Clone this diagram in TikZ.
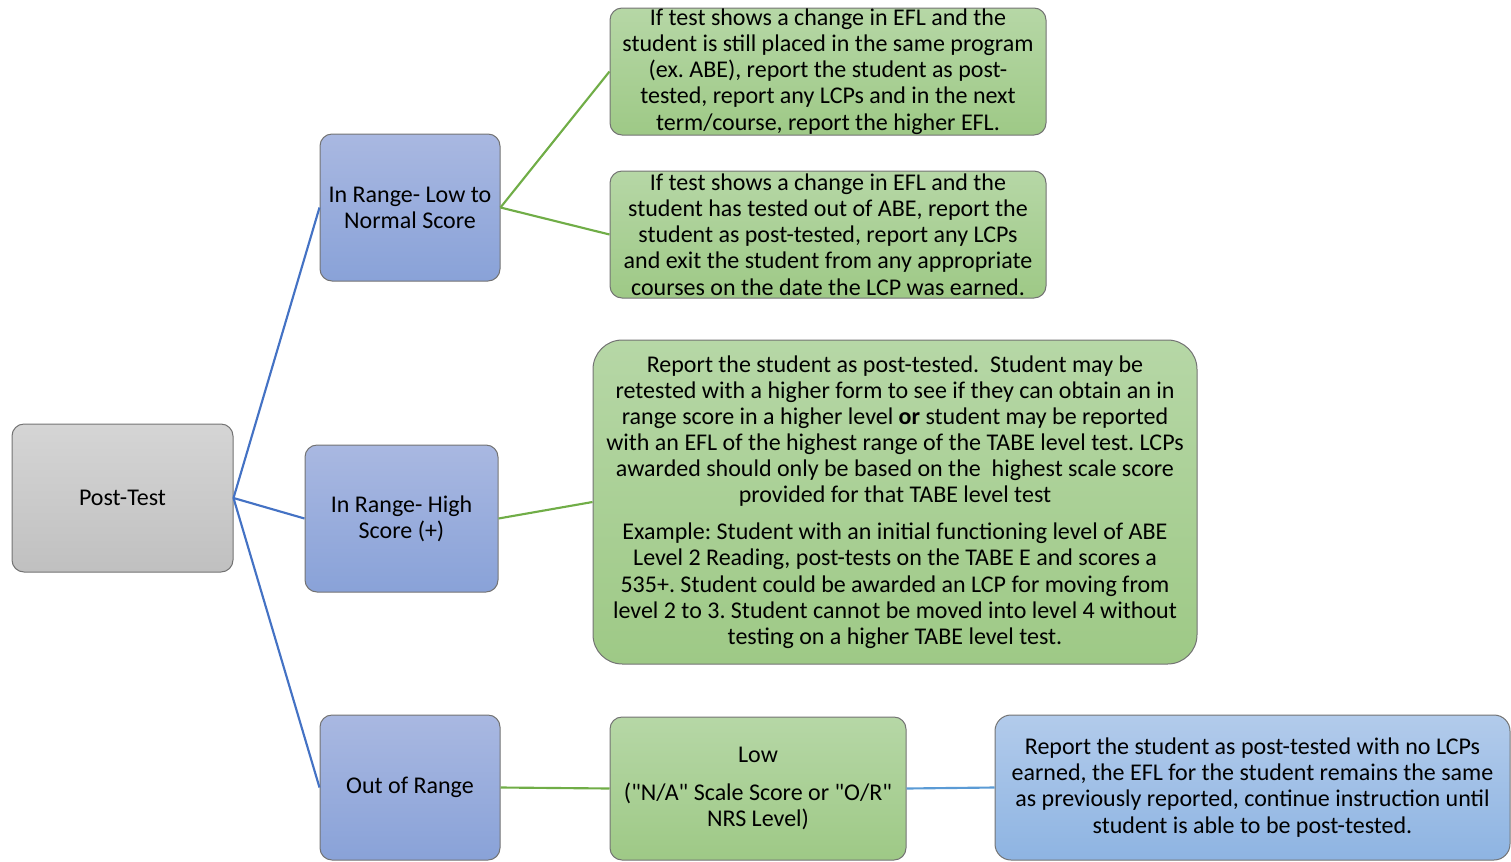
\documentclass[tikz,border=0pt]{standalone}
\usepackage{fontspec}
\setmainfont{Carlito}
\frenchspacing
\definecolor{grayTop}{RGB}{213,213,213}
\definecolor{grayBot}{RGB}{192,192,192}
\definecolor{blueTop}{RGB}{169,184,225}
\definecolor{blueBot}{RGB}{137,162,216}
\definecolor{greenTop}{RGB}{182,215,166}
\definecolor{greenBot}{RGB}{158,201,134}
\definecolor{skyTop}{RGB}{178,203,235}
\definecolor{skyBot}{RGB}{142,180,226}
\definecolor{lineBlue}{RGB}{68,114,196}
\definecolor{lineGreen}{RGB}{112,173,71}
\definecolor{lineSky}{RGB}{91,155,213}
\tikzset{
  box/.style={rectangle, rounded corners=9pt, draw=black!55, line width=0.75pt,
    align=center, inner xsep=2pt, inner ysep=0pt,
    font=\fontsize{18}{19.6}\selectfont},
  graybox/.style={box, top color=grayTop, bottom color=grayBot},
  bluebox/.style={box, top color=blueTop, bottom color=blueBot},
  greenbox/.style={box, top color=greenTop, bottom color=greenBot},
  skybox/.style={box, top color=skyTop, bottom color=skyBot},
  link/.style={line width=1.6pt}
}
\begin{document}
\begin{tikzpicture}[x=0.75pt, y=-0.75pt]
  \useasboundingbox (0,0) rectangle (1511,861);
  % Nodes
  \node (post) [graybox, minimum width=221*0.75pt, minimum height=148*0.75pt] at (122.5, 498) {Post-Test};
  \node (lownorm) [bluebox, minimum width=180*0.75pt, minimum height=147*0.75pt] at (410, 207.5) {In Range- Low to\\Normal Score};
  \node (high) [bluebox, minimum width=193*0.75pt, minimum height=147*0.75pt] at (401.5, 518.5) {In Range- High\\Score (+)};
  \node (outr) [bluebox, minimum width=180*0.75pt, minimum height=145*0.75pt] at (410, 787.5) {Out of Range};
  \node (change) [greenbox, minimum width=436*0.75pt, minimum height=127*0.75pt] at (828, 71.5)
    {If test shows a change in EFL and the\\student is still placed in the same program\\(ex. ABE), report the student as post-\\tested, report any LCPs and in the next\\term/course, report the higher EFL.};
  \node (exit) [greenbox, minimum width=436*0.75pt, minimum height=127*0.75pt] at (828, 234.5)
    {If test shows a change in EFL and the\\student has tested out of ABE, report the\\student as post-tested, report any LCPs\\and exit the student from any appropriate\\courses on the date the LCP was earned.};
  \node (report) [greenbox, rounded corners=22pt, minimum width=604*0.75pt, minimum height=324*0.75pt] at (895, 502)
    {Report the student as post-tested.\ \ Student may be\\retested with a higher form to see if they can obtain an in\\range score in a higher level \textbf{or} student may be reported\\with an EFL of the highest range of the TABE level test. LCPs\\awarded should only be based on the\ \ highest scale score\\provided for that TABE level test\\[8pt]Example: Student with an initial functioning level of ABE\\Level 2 Reading, post-tests on the TABE E and scores a\\535+. Student could be awarded an LCP for moving from\\level 2 to 3. Student cannot be moved into level 4 without\\testing on a higher TABE level test.};
  \node (low) [greenbox, minimum width=296*0.75pt, minimum height=143*0.75pt] at (758, 788.5)
    {Low\\[9pt](\textquotedbl N/A\textquotedbl{} Scale Score or \textquotedbl O/R\textquotedbl\\NRS Level)};
  \node (noLCP) [skybox, rounded corners=12pt, minimum width=515*0.75pt, minimum height=145*0.75pt] at (1252.5, 787.5)
    {Report the student as post-tested with no LCPs\\earned, the EFL for the student remains the same\\as previously reported, continue instruction until\\student is able to be post-tested.};
  % Lines
  \draw[link, lineBlue] (post.east) -- (lownorm.west);
  \draw[link, lineBlue] (post.east) -- (high.west);
  \draw[link, lineBlue] (post.east) -- (outr.west);
  \draw[link, lineGreen] (lownorm.east) -- (change.west);
  \draw[link, lineGreen] (lownorm.east) -- (exit.west);
  \draw[link, lineGreen] (high.east) -- (report.west);
  \draw[link, lineGreen] (outr.east) -- (low.west);
  \draw[link, lineSky] (low.east) -- (noLCP.west);
\end{tikzpicture}
\end{document}
